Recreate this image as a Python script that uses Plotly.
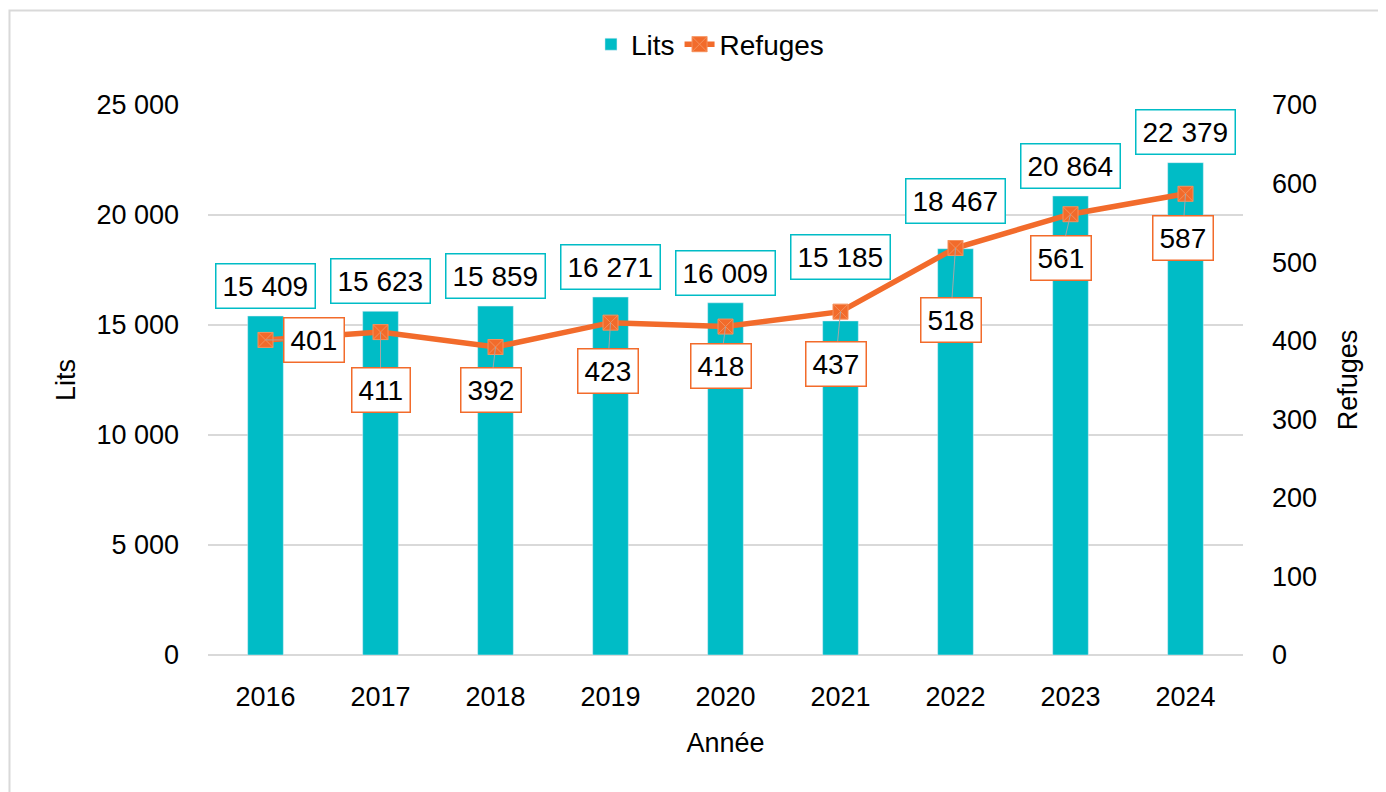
import plotly.graph_objects as go

years = ["2016", "2017", "2018", "2019", "2020", "2021", "2022", "2023", "2024"]
lits = [15409, 15623, 15859, 16271, 16009, 15185, 18467, 20864, 22379]
refuges = [401, 411, 392, 423, 418, 437, 518, 561, 587]
lits_ticks = [0, 5000, 10000, 15000, 20000, 25000]
ref_ticks = [0, 100, 200, 300, 400, 500, 600, 700]

# label offsets (px) - styling only
bar_label_shift = [30, 30, 30, 30, 30, 64, 48, 30, 31]
ref_label_off = [(48, 0), (0, 58), (-5, 43), (-3, 48), (-5, 39), (-5, 52), (-5, 72), (-10, 44), (-3, 44)]

TEAL = "#00BCC6"
ORANGE = "#F26B2B"
FONT = "Liberation Sans"

def fmt(v):
    return f"{v:,}".replace(",", " ")

fig = go.Figure()
fig.add_trace(go.Bar(x=years, y=lits, name="Lits", marker_color=TEAL, width=0.31, yaxis="y"))
fig.add_trace(go.Scatter(x=years, y=refuges, name="Refuges", yaxis="y2", mode="lines+markers",
                         line=dict(color=ORANGE, width=5.5),
                         marker=dict(symbol="square-x", size=15, color=ORANGE,
                                     line=dict(color="#F5915C", width=1))))

annotations = []
for i, v in enumerate(lits):
    annotations.append(dict(x=i, y=v, xref="x", yref="y", text=fmt(v), showarrow=False,
                            yshift=bar_label_shift[i], font=dict(size=28, color="black", family=FONT),
                            bgcolor="white", bordercolor=TEAL, borderwidth=1.5, borderpad=6))
for i, v in enumerate(refuges):
    ax, ay = ref_label_off[i]
    annotations.append(dict(x=i, y=v, xref="x", yref="y2", text=str(v), showarrow=True,
                            arrowhead=0, arrowcolor="#A6A6A6", arrowwidth=1, ax=ax, ay=ay,
                            font=dict(size=28, color="black", family=FONT),
                            bgcolor="white", bordercolor=ORANGE, borderwidth=1.5, borderpad=6))

fig.update_layout(
    width=1386, height=792,
    margin=dict(l=200, r=151, t=97, b=145, autoexpand=False),
    paper_bgcolor="white", plot_bgcolor="white",
    font=dict(family=FONT, size=27, color="black"),
    showlegend=True,
    legend=dict(orientation="h", x=0.485, xanchor="center", y=1.11, yanchor="middle",
                font=dict(size=28), traceorder="normal"),
    xaxis=dict(type="category", range=[-0.5, 8.5], showgrid=False, showline=False, ticks="",
               tickfont=dict(size=27), ticklabelstandoff=23,
               title=dict(text="Année", font=dict(size=27), standoff=22)),
    yaxis=dict(range=[0, 25000], tickvals=lits_ticks, ticktext=[fmt(t) for t in lits_ticks],
               showgrid=True, gridcolor="#D9D9D9", gridwidth=1.5, zeroline=True,
               zerolinecolor="#D9D9D9", zerolinewidth=1.5, showline=False, ticks="",
               tickfont=dict(size=27), ticklabelstandoff=28,
               title=dict(text="Lits", font=dict(size=27), standoff=12)),
    yaxis2=dict(range=[0, 700], tickvals=ref_ticks, overlaying="y", side="right",
                showgrid=False, zeroline=False, showline=False, ticks="",
                tickfont=dict(size=27), ticklabelstandoff=28,
                title=dict(text="Refuges", font=dict(size=27), standoff=22)),
    annotations=annotations,
    shapes=[dict(type="rect", xref="paper", yref="paper", x0=-0.1918, x1=1.2, y0=-0.3, y1=1.172,
                 line=dict(color="#D9D9D9", width=2), fillcolor="rgba(0,0,0,0)", layer="below")],
)

fig.write_html("out.html")
